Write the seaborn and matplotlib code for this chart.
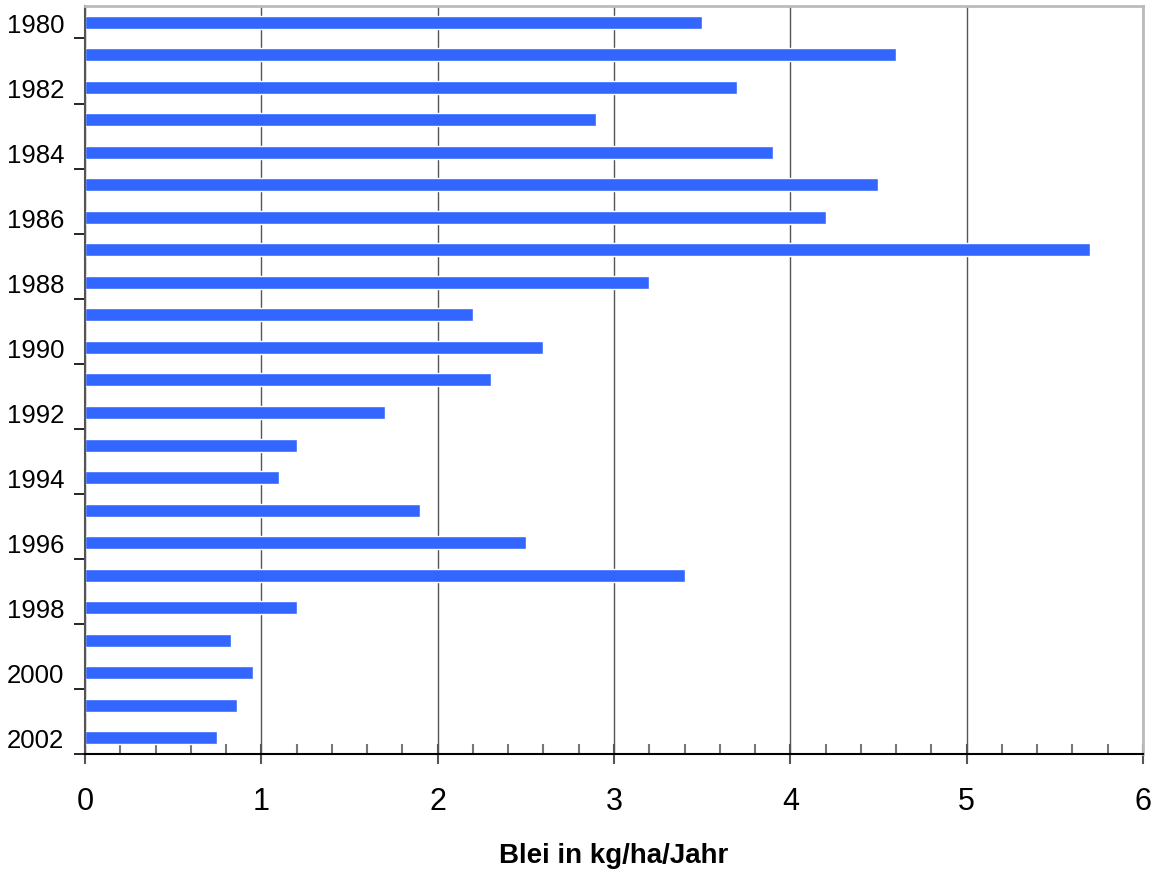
import matplotlib
matplotlib.use("Agg")
import matplotlib.pyplot as plt
import seaborn as sns
import numpy as np
import pandas as pd
from matplotlib.ticker import MultipleLocator, FixedLocator

# Lead deposition per year
years = [str(y) for y in range(1980, 2003)]
lead = [3.5, 4.6, 3.7, 2.9, 3.9, 4.5, 4.2, 5.7, 3.2, 2.2, 2.6, 2.3,
        1.7, 1.2, 1.1, 1.9, 2.5, 3.4, 1.2, 0.83, 0.95, 0.86, 0.75]
x_label = "Blei in kg/ha/Jahr"

df = pd.DataFrame({"year": years, "lead": lead})

sns.set_style("white")
plt.rcParams["font.family"] = ["Liberation Sans", "DejaVu Sans"]
plt.rcParams["text.color"] = "black"
plt.rcParams["xtick.color"] = "black"
plt.rcParams["ytick.color"] = "black"

fig = plt.figure(figsize=(11.6, 8.7), dpi=100)
ax = fig.add_axes([0.0733, 0.1322, 0.912, 0.8598])

sns.barplot(data=df, x="lead", y="year", orient="h", color="#3366FF",
            width=0.4, saturation=1, ax=ax)

ax.set_xlim(0, 6)
ax.set_ylim(len(years) - 0.5, -0.5)

# vertical grid
ax.xaxis.set_major_locator(MultipleLocator(1))
ax.xaxis.set_minor_locator(MultipleLocator(0.2))
ax.grid(axis="x", which="major", color="#555555", linewidth=1)
ax.set_axisbelow(True)
ax.tick_params(axis="x", which="major", bottom=True, direction="inout",
               length=14, width=1.5, color="#555555", labelsize=22,
               labelcolor="black", pad=16)
ax.tick_params(axis="x", which="minor", bottom=True, direction="in",
               length=7, width=1.5, color="#777777")

# y ticks at category boundaries, labels on even years
ax.yaxis.set_major_locator(FixedLocator(np.arange(0.5, len(years), 2)))
ax.yaxis.set_minor_locator(FixedLocator(np.arange(0, len(years), 2)))
ax.set_yticklabels([], minor=False)
ax.set_yticklabels(years[::2], minor=True)
ax.tick_params(axis="y", which="major", direction="out", length=8,
               width=1.2, color="black", left=True)
ax.tick_params(axis="y", which="minor", length=0, labelsize=18.5,
               labelcolor="black", pad=15)

ax.set_ylabel("")
ax.set_xlabel(x_label, fontsize=20, fontweight="bold", labelpad=19,
              color="black")

for side in ["top", "right"]:
    ax.spines[side].set_color("#BBBBBB")
    ax.spines[side].set_linewidth(2)
ax.spines["left"].set_color("#555555")
ax.spines["left"].set_linewidth(1.5)
ax.spines["bottom"].set_color("black")
ax.spines["bottom"].set_linewidth(1.5)

fig.savefig("out.png", dpi=100)
